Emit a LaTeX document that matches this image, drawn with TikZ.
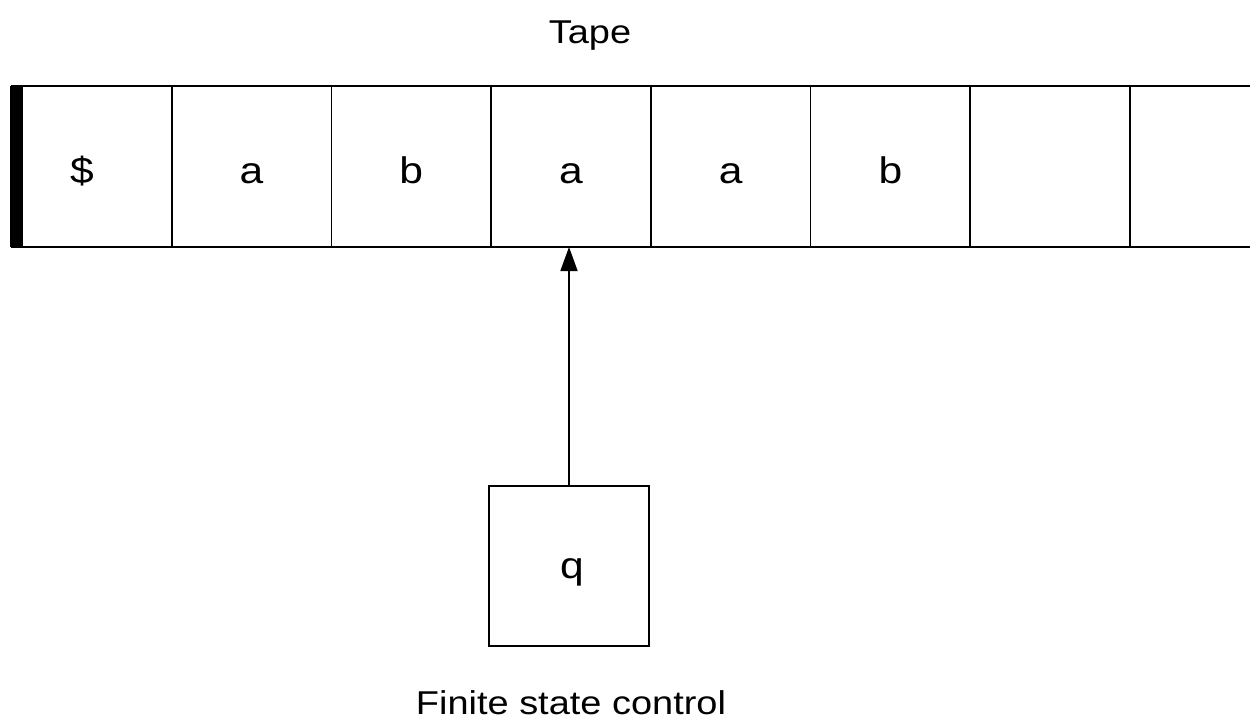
\documentclass[tikz,border=0pt]{standalone}
\usepackage{fontspec}
\setmainfont{Liberation Sans}
\newfontfamily\widesans[FakeStretch=1.15]{Liberation Sans}
\usetikzlibrary{arrows.meta}

\tikzset{
  cell/.style={draw, line width=1.6pt, minimum width=159.7pt, minimum height=161pt,
               inner sep=0pt, outer sep=0pt, anchor=north west,
               font=\widesans\fontsize{37}{40}\selectfont},
  statebox/.style={draw, line width=1.6pt, minimum width=160pt, minimum height=160pt,
               inner sep=0pt, outer sep=0pt, anchor=north west},
  symb/.style={font=\widesans\fontsize{37}{40}\selectfont, inner sep=0pt, anchor=base},
  caption/.style={font=\widesans\fontsize{33}{36}\selectfont, inner sep=0pt, anchor=base},
  head/.style={line width=1.6pt, -{Triangle[length=24pt,width=17pt]}},
}

\begin{document}
\begin{tikzpicture}[x=1pt,y=-1pt]
  \useasboundingbox[fill=white] (0,0) rectangle (1250,728);

  % tape cells
  \node[cell] (c0) at (12,86) {};
  \node[cell] (c1) at (c0.north east) {};
  \node[cell] (c2) at (c1.north east) {};
  \node[cell] (c3) at (c2.north east) {};
  \node[cell] (c4) at (c3.north east) {};
  \node[cell] (c5) at (c4.north east) {};
  \node[cell] (c6) at (c5.north east) {};

  % open-ended last cell
  \coordinate (tapeNE) at (1252,86);
  \coordinate (tapeSE) at (1252,247);
  \draw[line width=1.6pt] (c6.north east) -- (c6.north east -| tapeNE)
                          (c6.south east) -- (c6.south east -| tapeSE);

  % left end marker
  \fill (10,86) rectangle (23,247);

  % tape symbols
  \node[symb] (s0) at ([xshift=-10pt]c0.center |- 0,183) {\$};
  \node[symb] (s1) at (c1.center |- 0,183) {a};
  \node[symb] (s2) at (c2.center |- 0,183) {b};
  \node[symb] (s3) at (c3.center |- 0,183) {a};
  \node[symb] (s4) at (c4.center |- 0,183) {a};
  \node[symb] (s5) at (c5.center |- 0,183) {b};

  % finite state control
  \node[statebox] (fsc) at (489,486) {};
  \node[symb] (q) at (572,578) {q};

  % read head
  \draw[head] (fsc.north) -- (fsc.north |- c3.south);

  % captions
  \node[caption] (tape) at (590,43) {Tape};
  \node[caption] (ctrl) at (571,714) {Finite state control};
\end{tikzpicture}
\end{document}
